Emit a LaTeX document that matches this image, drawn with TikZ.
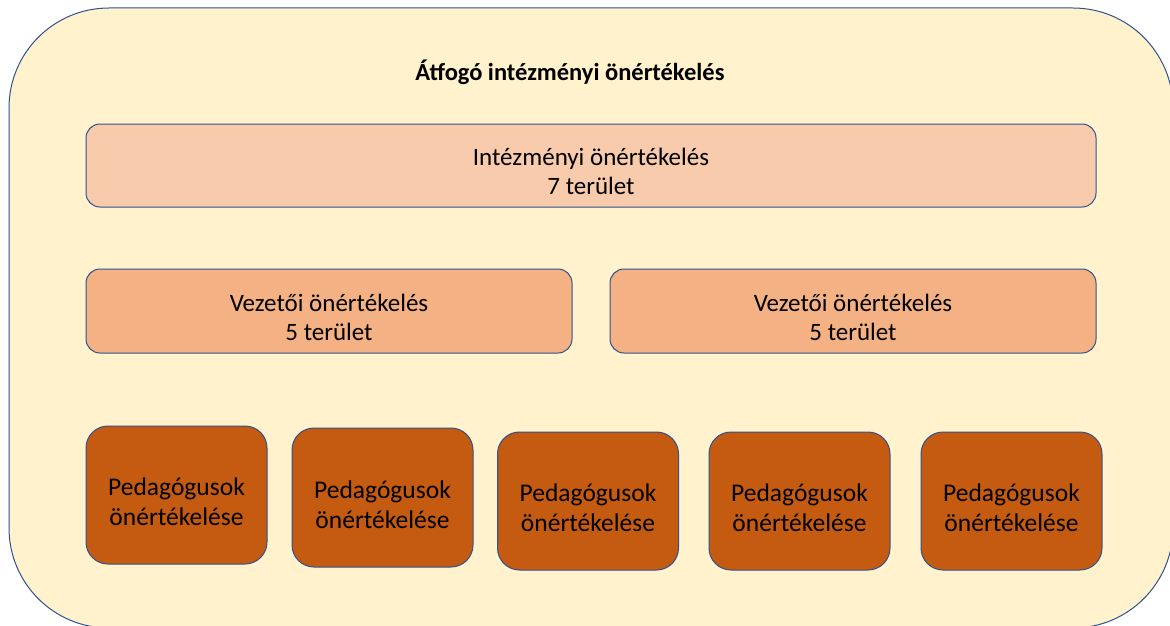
\documentclass[tikz,border=0pt]{standalone}
\usepackage{fontspec}
\setmainfont{Carlito}
\definecolor{cream}{HTML}{FFF2CC}
\definecolor{edge}{HTML}{2F528F}
\definecolor{lightor}{HTML}{F8CBAD}
\definecolor{midor}{HTML}{F4B183}
\definecolor{darkor}{HTML}{C55A11}
\tikzset{
  outerbox/.style={draw=edge, fill=cream, line width=1pt, rounded corners=100pt, inner sep=0pt},
  boxbase/.style={draw=edge, line width=1pt, inner sep=0pt},
  instbox/.style={boxbase, fill=lightor, rounded corners=14pt, minimum width=1010pt, minimum height=83pt},
  leadbox/.style={boxbase, fill=midor, rounded corners=14pt, minimum width=486pt, minimum height=84pt},
  pedbox/.style={boxbase, fill=darkor, rounded corners=22pt, minimum width=181pt, minimum height=138pt},
  boxtext/.style={align=center, inner sep=0pt, text=black, font=\fontsize{25}{29}\selectfont},
  pedtext/.style={align=center, inner sep=0pt, text=black, font=\fontsize{25.5}{30}\selectfont},
  titletext/.style={font=\bfseries\fontsize{24.5}{28}\selectfont, inner sep=0pt}
}
\begin{document}
\begin{tikzpicture}[x=1pt,y=-1pt]
\useasboundingbox (0,0) rectangle (1170,626);
\node[outerbox, minimum width=1164pt, minimum height=620pt] (outer) at (591,318) {};
\node[titletext] (title) at (570,72) {Átfogó intézményi önértékelés};
\node[instbox] (inst) at (591,165.5) {};
\node[leadbox] (lead1) at (329,311) {};
\node[leadbox] (lead2) at (853,311) {};
\node[pedbox] (ped1) at (176.5,495) {};
\node[pedbox, minimum height=139pt] (ped2) at (382.5,497.5) {};
\node[pedbox] (ped3) at (588,501) {};
\node[pedbox] (ped4) at (799.5,501) {};
\node[pedbox] (ped5) at (1011.5,501) {};
\node[boxtext] (tinst) at ([yshift=-6pt]inst.center) {Intézményi önértékelés\\7 terület};
\node[boxtext] (tlead1) at ([yshift=-6pt]lead1.center) {Vezetői önértékelés\\5 terület};
\node[boxtext] (tlead2) at ([yshift=-6pt]lead2.center) {Vezetői önértékelés\\5 terület};
\foreach \p in {ped1,ped2,ped3,ped4,ped5}{
  \node[pedtext] (t\p) at ([yshift=-7pt]\p.center) {Pedagógusok\\önértékelése};
}
\end{tikzpicture}
\end{document}
